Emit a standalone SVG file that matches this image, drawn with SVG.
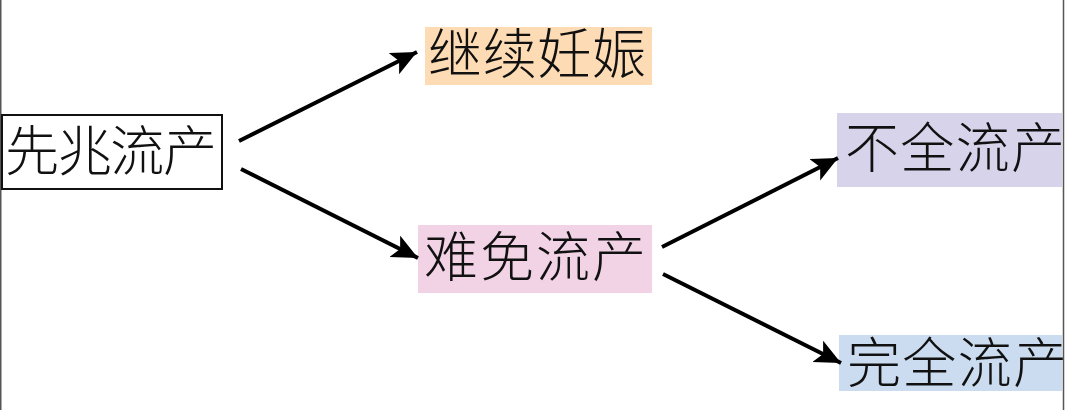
<svg xmlns="http://www.w3.org/2000/svg" width="1065" height="410" viewBox="0 0 1065 410">
<style>
.t{font-family:"Liberation Serif","Noto Sans CJK SC",serif;font-size:54px;fill:#111;dominant-baseline:central;font-weight:300}
.c{stroke:#000;stroke-width:4;fill:none;marker-end:url(#ah)}
</style>
<defs>
<marker id="ah" markerUnits="userSpaceOnUse" markerWidth="30" markerHeight="26" refX="26" refY="12" orient="auto">
<path d="M0,0 L26,12 L0,24 L6,12 Z" fill="#000"/>
</marker>
</defs>
<rect width="1065" height="410" fill="#fff"/>
<line x1="0.75" y1="0" x2="0.75" y2="410" stroke="#555" stroke-width="1.5"/>
<line x1="1063.5" y1="0" x2="1063.5" y2="410" stroke="#555" stroke-width="1.5"/>
<g id="n1">
<rect x="2" y="115" width="220" height="74" fill="#fff" stroke="#111" stroke-width="2"/>
<text class="t" x="5" y="153" textLength="212">先兆流产</text>
</g>
<g id="n2">
<rect x="425" y="27" width="227" height="58" fill="#FDDCB5"/>
<text class="t" x="428" y="56" textLength="218">继续妊娠</text>
</g>
<g id="n3">
<rect x="418" y="225" width="234" height="68" fill="#F2D3E6"/>
<text class="t" x="424" y="259" textLength="222">难免流产</text>
</g>
<g id="n4">
<rect x="837" y="113" width="225" height="74" fill="#D6D3EA"/>
<text class="t" x="845" y="150" textLength="220">不全流产</text>
</g>
<g id="n5">
<rect x="839" y="335" width="223" height="56" fill="#CCDCF0"/>
<text class="t" x="847" y="365" textLength="220">完全流产</text>
</g>
<g id="connectors">
<line class="c" x1="239" y1="141" x2="417" y2="52"/>
<line class="c" x1="241" y1="169" x2="418" y2="258"/>
<line class="c" x1="662" y1="247" x2="838" y2="158"/>
<line class="c" x1="663" y1="274" x2="841" y2="363"/>
</g>
</svg>
